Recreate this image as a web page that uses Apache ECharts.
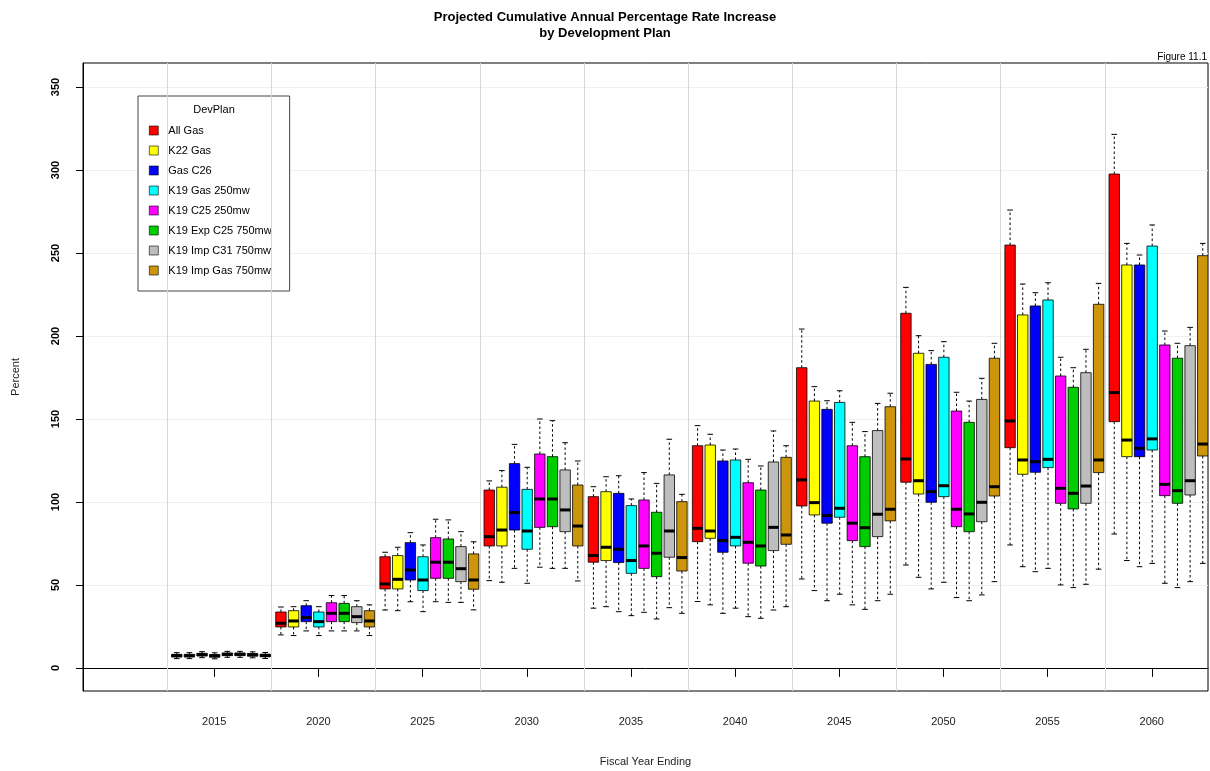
<!DOCTYPE html>
<html><head><meta charset="utf-8">
<script src="https://cdn.jsdelivr.net/npm/echarts@6/dist/echarts.min.js"></script>
<style>html,body{margin:0;padding:0;background:#fff}#c{width:1210px;height:771px}</style>
</head><body><div id="c"></div>
<script>
// ---- data ----
const years = [2015, 2020, 2025, 2030, 2035, 2040, 2045, 2050, 2055, 2060];
const yTicks = [0, 50, 100, 150, 200, 250, 300, 350];
const planNames = ['All Gas', 'K22 Gas', 'Gas C26', 'K19 Gas 250mw', 'K19 C25 250mw', 'K19 Exp C25 750mw', 'K19 Imp C31 750mw', 'K19 Imp Gas 750mw'];
const planColors = ['#FF0000', '#FFFF00', '#0000FF', '#00FFFF', '#FF00FF', '#00CD00', '#BEBEBE', '#CD950C'];

// each entry: [min, q1, median, q3, max] per year
const allGas = [
  [5.6, 6.6, 7.4, 8.2, 9.2], [19.9, 24.7, 26.9, 33.7, 36.7], [34.9, 47.6, 50.6, 67.0, 69.7],
  [52.6, 73.5, 79.1, 107.2, 112.7], [36.0, 63.7, 67.7, 103.2, 109.2], [40.0, 76.1, 84.1, 133.9, 146.0],
  [53.6, 97.6, 113.3, 180.9, 204.2], [62.0, 111.9, 125.9, 213.7, 229.3], [74.1, 132.7, 148.8, 254.8, 275.9],
  [80.7, 148.4, 165.9, 297.6, 321.5]
];
const k22Gas = [
  [5.6, 6.6, 7.4, 8.2, 9.2], [19.5, 24.7, 28.3, 34.5, 36.9], [34.5, 47.6, 53.4, 67.7, 72.7],
  [51.6, 73.5, 83.1, 108.9, 118.9], [36.9, 64.7, 72.7, 106.2, 115.2], [38.0, 78.1, 82.5, 134.3, 140.8],
  [46.6, 92.2, 99.6, 160.8, 169.5], [54.6, 104.8, 112.8, 189.6, 200.2], [61.0, 116.7, 125.3, 212.7, 231.3],
  [64.7, 127.3, 137.3, 242.8, 255.8]
];
const gasC26 = [
  [6.2, 7.2, 8.0, 8.8, 9.8], [22.3, 27.9, 30.3, 37.5, 40.5], [39.9, 53.0, 59.0, 75.5, 81.5],
  [60.0, 83.1, 93.6, 123.1, 134.7], [33.9, 63.5, 71.5, 105.2, 115.8], [32.9, 69.7, 76.7, 124.7, 131.3],
  [40.5, 87.2, 91.8, 155.8, 161.0], [47.6, 99.8, 106.2, 182.9, 191.2], [58.0, 117.9, 124.3, 218.1, 226.1],
  [61.0, 127.3, 132.3, 242.8, 248.8]
];
const k19Gas250 = [
  [5.5, 6.5, 7.3, 8.1, 9.1], [19.5, 24.7, 27.9, 33.7, 36.9], [33.9, 46.6, 53.0, 67.0, 74.1],
  [51.0, 71.5, 82.5, 107.6, 120.9], [31.5, 57.0, 64.7, 97.8, 101.8], [36.0, 73.5, 78.7, 125.3, 131.9],
  [44.4, 90.8, 96.2, 160.0, 167.0], [51.6, 103.2, 109.8, 187.2, 196.6], [60.0, 120.7, 125.7, 221.7, 232.1],
  [63.0, 131.3, 138.0, 254.2, 266.9]
];
const k19C25_250 = [
  [6.4, 7.4, 8.2, 9.0, 10.0], [22.3, 27.9, 32.9, 39.3, 43.6], [39.9, 54.0, 63.7, 78.5, 89.6],
  [60.7, 84.7, 101.8, 128.9, 150.0], [33.5, 60.0, 73.5, 101.2, 117.7], [30.9, 63.1, 75.7, 111.6, 125.7],
  [38.0, 76.7, 87.2, 133.9, 148.0], [42.4, 85.1, 95.6, 154.8, 166.1], [50.0, 99.2, 108.2, 175.9, 187.2],
  [51.0, 103.8, 110.6, 194.6, 203.0]
];
const k19ExpC25 = [
  [6.4, 7.4, 8.2, 9.0, 10.0], [22.3, 27.9, 32.9, 38.9, 43.6], [39.5, 54.0, 63.7, 77.7, 89.2],
  [60.0, 85.1, 101.8, 127.3, 149.0], [29.5, 55.0, 69.1, 93.8, 111.2], [29.9, 61.4, 73.5, 107.2, 121.7],
  [35.3, 73.1, 84.5, 127.3, 142.4], [40.5, 82.1, 92.8, 148.0, 160.8], [48.4, 95.8, 105.2, 169.1, 180.9],
  [48.4, 99.2, 106.8, 186.6, 195.6]
];
const k19ImpC31 = [
  [6.1, 7.1, 7.9, 8.7, 9.7], [22.3, 27.3, 30.9, 36.9, 40.5], [39.5, 52.0, 59.8, 73.1, 82.1],
  [60.0, 82.1, 95.2, 119.3, 135.7], [36.3, 66.7, 82.5, 116.3, 137.8], [34.9, 70.7, 84.7, 124.1, 142.8],
  [40.5, 79.1, 92.6, 143.0, 159.4], [44.0, 88.1, 99.8, 161.8, 174.5], [50.4, 99.2, 109.6, 177.9, 192.0],
  [52.0, 104.2, 112.8, 194.2, 205.2]
];
const k19ImpGas = [
  [5.7, 6.7, 7.5, 8.3, 9.3], [19.5, 24.7, 28.3, 34.5, 38.0], [35.0, 47.4, 53.0, 68.7, 76.0],
  [52.4, 73.5, 85.5, 110.2, 124.7], [32.9, 58.4, 66.5, 100.2, 104.6], [36.9, 74.5, 80.1, 126.9, 133.9],
  [44.4, 88.6, 95.6, 157.4, 165.5], [52.0, 103.6, 109.2, 186.6, 195.6], [59.5, 117.7, 125.3, 219.1, 231.7],
  [63.0, 127.7, 134.9, 248.4, 255.8]
];
const planData = [allGas, k22Gas, gasC26, k19Gas250, k19C25_250, k19ExpC25, k19ImpC31, k19ImpGas];

// ---- layout (in year units) ----
const FIRST_OFFSET = -1.8, STEP = 0.607, BOX_W = 0.5, SEP_OFFSET = -2.25;

function renderBox(params, api) {
  const k = params.seriesIndex;
  const x = api.value(0) + FIRST_OFFSET + STEP * k;
  const pMin = api.coord([x, api.value(1)]);
  const pQ1 = api.coord([x, api.value(2)]);
  const pMed = api.coord([x, api.value(3)]);
  const pQ3 = api.coord([x, api.value(4)]);
  const pMax = api.coord([x, api.value(5)]);
  const w = api.size([BOX_W, 0])[0];
  const cx = pMed[0];
  const cap = w * 0.27;
  const dash = { stroke: '#000', lineWidth: 1, lineDash: [2.5, 2.5] };
  const solid = { stroke: '#000', lineWidth: 1 };
  return {
    type: 'group',
    children: [
      { type: 'line', shape: { x1: cx, y1: pQ3[1], x2: cx, y2: pMax[1] }, style: dash },
      { type: 'line', shape: { x1: cx, y1: pQ1[1], x2: cx, y2: pMin[1] }, style: dash },
      { type: 'line', shape: { x1: cx - cap, y1: pMax[1], x2: cx + cap, y2: pMax[1] }, style: solid },
      { type: 'line', shape: { x1: cx - cap, y1: pMin[1], x2: cx + cap, y2: pMin[1] }, style: solid },
      { type: 'rect', shape: { x: cx - w / 2, y: pQ3[1], width: w, height: pQ1[1] - pQ3[1] },
        style: { fill: api.visual('color'), stroke: '#000', lineWidth: 0.8 } },
      { type: 'line', shape: { x1: cx - w / 2, y1: pMed[1], x2: cx + w / 2, y2: pMed[1] },
        style: { stroke: '#000', lineWidth: 3 } }
    ]
  };
}

const series = planNames.map((name, k) => ({
  name: name,
  type: 'custom',
  renderItem: renderBox,
  clip: true,
  itemStyle: { color: planColors[k] },
  encode: { x: 0, y: [1, 2, 3, 4, 5] },
  data: years.map((yr, i) => [yr].concat(planData[k][i])),
  markLine: k === 0 ? {
    silent: true, symbol: ['none', 'none'], label: { show: false },
    lineStyle: { color: '#d8d8d8', type: 'solid', width: 1 },
    data: years.map(yr => ({ xAxis: yr + SEP_OFFSET }))
  } : undefined
}));

const chart = echarts.init(document.getElementById('c'), null, { renderer: 'canvas' });
const FONT = 'Liberation Sans, Arial, Helvetica, sans-serif';
chart.setOption({
  animation: false,
  backgroundColor: '#fff',
  textStyle: { fontFamily: FONT },
  title: {
    text: 'Projected Cumulative Annual Percentage Rate Increase\nby Development Plan',
    left: 'center', top: 4,
    textStyle: { fontSize: 13, fontWeight: 'bold', color: '#000', lineHeight: 16, fontFamily: FONT }
  },
  grid: { left: 83, right: 2, top: 63, bottom: 80, outerBoundsMode: 'none', containLabel: false,
    show: true, borderColor: '#000', borderWidth: 1, backgroundColor: 'transparent' },
  legend: {
    data: planNames, orient: 'vertical', left: 138, top: 96,
    padding: [29, 18, 15, 11], itemGap: 9, itemWidth: 9, itemHeight: 9,
    icon: 'rect', borderColor: '#444', borderWidth: 1, backgroundColor: '#fff',
    itemStyle: { borderColor: '#000', borderWidth: 0.6 },
    textStyle: { fontSize: 11, color: '#000', padding: [0, 0, 0, 5], fontFamily: FONT },
    selectedMode: false
  },
  graphic: [
    { type: 'text', x: 214, y: 110, z: 100,
      style: { text: 'DevPlan', fontSize: 11, fill: '#000', textAlign: 'center', textVerticalAlign: 'middle', fontFamily: FONT } },
    { type: 'text', x: 1207, y: 57, z: 100,
      style: { text: 'Figure 11.1', fontSize: 10, fill: '#000', textAlign: 'right', textVerticalAlign: 'middle', fontFamily: FONT } }
  ],
  xAxis: {
    type: 'value', min: 2008.7, max: 2062.7,
    name: 'Fiscal Year Ending', nameLocation: 'middle', nameGap: 65,
    nameTextStyle: { fontSize: 11, color: '#222' },
    axisLine: { show: true, lineStyle: { color: '#000' } },
    axisTick: { show: true, length: 9, customValues: years, lineStyle: { color: '#000' } },
    axisLabel: { customValues: years, margin: 25, fontSize: 11, color: '#222', formatter: v => String(v) },
    splitLine: { show: false }
  },
  yAxis: {
    type: 'value', min: -13.9, max: 364.5,
    name: 'Percent', nameLocation: 'middle', nameGap: 62,
    nameTextStyle: { fontSize: 11, color: '#222' },
    axisLine: { show: true, lineStyle: { color: '#000' } },
    axisTick: { show: true, length: 7, customValues: yTicks, lineStyle: { color: '#000' } },
    axisLabel: { customValues: yTicks, rotate: 90, margin: 22, fontSize: 11, fontWeight: 'bold', color: '#000', formatter: v => String(v) },
    splitLine: { show: true, lineStyle: { color: '#f0f0f0', width: 1 } }
  },
  series: series
});
</script>
</body></html>
